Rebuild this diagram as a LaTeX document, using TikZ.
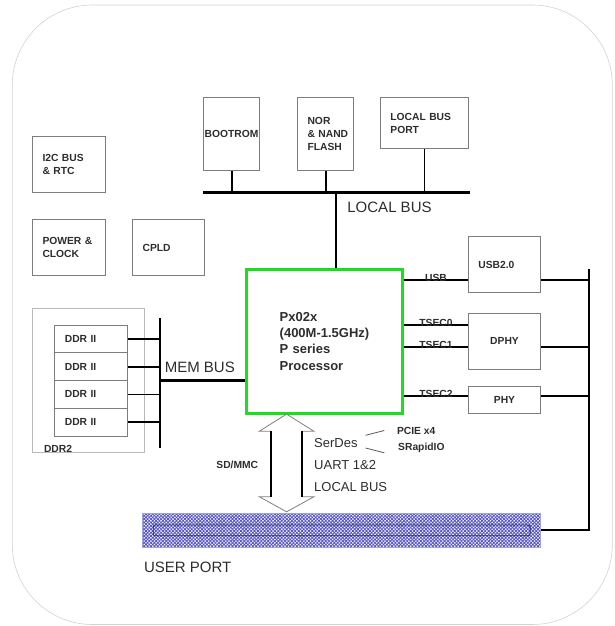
\documentclass[tikz,border=0pt]{standalone}
\usepackage{fontspec}
\setmainfont{Liberation Sans}
\usetikzlibrary{calc,patterns.meta}
\definecolor{boxgray}{RGB}{125,125,125}
\definecolor{procgreen}{RGB}{25,225,25}
\definecolor{hatchblue}{RGB}{85,85,200}
\definecolor{txt}{RGB}{45,45,45}
\tikzset{
	blk/.style 2 args={draw=boxgray,line width=0.9pt,text=txt,font=\bfseries\fontsize{10.3}{13}\selectfont,align=left,inner xsep=10pt,inner ysep=0pt,text width=#1,minimum height=#2},
	bus/.style={line width=2.6pt},
	wire/.style={line width=1.8pt},
	tag/.style={text=txt,font=\fontsize{15}{18}\selectfont,inner sep=0pt,anchor=west},
	note/.style={text=txt,font=\fontsize{13}{16}\selectfont,inner sep=0pt,anchor=west},
	small/.style={text=txt,font=\bfseries\fontsize{10.3}{12}\selectfont,inner sep=0pt},
	onwire/.style={small,anchor=base,yshift=-1.5pt},
}
\begin{document}
\begin{tikzpicture}[x=1pt,y=-1pt]
				\useasboundingbox (0,0) rectangle (615,626);
				\draw[gray!35,line width=0.6pt,rounded corners=80] (12.3,5) rectangle (612.3,624.5);
				\node[blk={53}{55.8}] (i2c) at (69,164.8) {I2C BUS\\\& RTC};
				\node[blk={53}{55.8}] (pwr) at (69,247.8) {POWER \&\\CLOCK};
				\node[blk={52}{55.8}] (cpld) at (168.6,247.8) {CPLD};
				\node[blk={54}{72.6},inner xsep=1pt] (boot) at (231.7,134.1) {BOOTROM};
				\node[blk={36.3}{72.6}] (nor) at (325.7,134.1) {NOR\\\&~NAND\\FLASH};
				\node[blk={68}{50.3}] (lbp) at (424.4,123) {LOCAL~BUS\\PORT};
				\node[blk={52.3}{55.8}] (usb) at (504.5,264.5) {USB2.0};
				\node[blk={52.3}{55.4},align=center] (dphy) at (504.5,341.3) {DPHY};
				\node[blk={52.3}{27.1},align=center] (phy) at (504.5,399.7) {PHY};
				\node[draw=gray!55,line width=0.8pt,minimum width=111.4,minimum height=143.6] (ddr) at (88.2,380.6) {};
				\node[small,anchor=south west] (ddrlbl) at ($(ddr.south west)+(11.7,0)$) {DDR2};
				\foreach \i/\y in {1/339,2/366.7,3/394.4,4/422.1}
					\node[blk={52.3}{27.7}] (ddr\i) at (91,\y) {DDR II};
				\node[draw=procgreen,line width=2.6pt,text=txt,font=\bfseries\fontsize{13}{16.2}\selectfont,align=left,text width=90,inner xsep=33pt,minimum width=156,minimum height=144] (cpu) at (324.7,341.3) {Px02x\\(400M-1.5GHz)\\P series\\Processor};
				\node[draw=hatchblue!55,line width=0.6pt,pattern={Hatch[angle=45,distance=2.4pt,line width=0.85pt]},pattern color=hatchblue,minimum width=398,minimum height=34] (up) at (341.7,530) {};
				\draw[hatchblue!50!black,line width=0.8pt,rounded corners=2pt] ($(up.west)+(11,-5)$) rectangle ($(up.east)+(-11,5.8)$);
				\coordinate (lbw) at (202.9,192.7);
				\coordinate (lbe) at (469.5,192.7);
				\coordinate (lbj) at (335.8,192.7);
				\coordinate (rbt) at (588.8,269.3);
				\coordinate (rbb) at (588.8,531);
				\coordinate (mbt) at (159.9,318.4);
				\coordinate (mbb) at (159.9,448.4);
				\draw[bus] (lbw) -- (lbe);
				\draw[wire] (boot.south) -- (boot.south |- lbw);
				\draw[wire] (nor.south) -- (nor.south |- lbw);
				\draw[wire] (lbp.south) -- (lbp.south |- lbw);
				\draw[bus] (lbj) -- (lbj |- cpu.north);
				\node[tag] (lbtag) at (347.2,207) {LOCAL BUS};
				\draw[bus] (rbt) -- (rbb);
				\draw[wire] (cpu.east |- 0,280) -- node[onwire]{USB} (usb.west |- 0,280);
				\draw[wire] (usb.east |- 0,280) -- (rbt |- 0,280);
				\draw[wire] (cpu.east |- 0,325) -- node[onwire]{TSEC0} (dphy.west |- 0,325);
				\draw[wire] (cpu.east |- 0,346.7) -- node[onwire]{TSEC1} (dphy.west |- 0,346.7);
				\draw[wire] (dphy.east |- 0,346.7) -- (rbt |- 0,346.7);
				\draw[wire] (cpu.east |- 0,396) -- node[onwire]{TSEC2} (phy.west |- 0,396);
				\draw[wire] (phy.east |- 0,396) -- (rbt |- 0,396);
				\draw[bus] (up.east) -- (up.east -| rbt);
				\draw[bus] (mbt) -- (mbb);
				\foreach \i in {1,...,4}
					\draw[wire] (ddr\i.east) -- (ddr\i.east -| mbt);
				\draw[bus] (mbt |- 0,380.2) -- (cpu.west |- 0,380.2);
				\node[tag] (memtag) at (164.6,367) {MEM BUS};
				\draw[gray,line width=0.8pt,fill=white] (286.6,414.1) -- (314,431.3) -- (302.2,431.3) -- (302.2,496.7) -- (314,496.7) -- (286.6,511.8) -- (259.2,496.7) -- (271,496.7) -- (271,431.3) -- (259.2,431.3) -- cycle;
				\draw[line width=1.6pt] (271,431.3) -- (271,496.7) (302.2,431.3) -- (302.2,496.7);
				\node[small,anchor=west] (sdmmc) at (216.2,464.8) {SD/MMC};
				\node[note] (serdes) at (314,443.2) {SerDes};
				\node[note] (uart) at (314,465.2) {UART 1\&2};
				\node[note] (lbus) at (314,487.1) {LOCAL BUS};
				\node[small,anchor=west] (pcie) at (396.8,431.3) {PCIE x4};
				\node[small,anchor=west] (srio) at (398,448) {SRapidIO};
				\draw[gray!70!black,line width=0.8pt] ($(serdes.east)+(7.8,-7.9)$) -- ($(pcie.west)+(-12.5,-0.8)$);
				\draw[gray!70!black,line width=0.8pt] ($(serdes.east)+(7.8,4.8)$) -- ($(srio.west)+(-13.7,4.8)$);
				\node[tag] (uptag) at (143.9,566.9) {USER PORT};
			\end{tikzpicture}
\end{document}
